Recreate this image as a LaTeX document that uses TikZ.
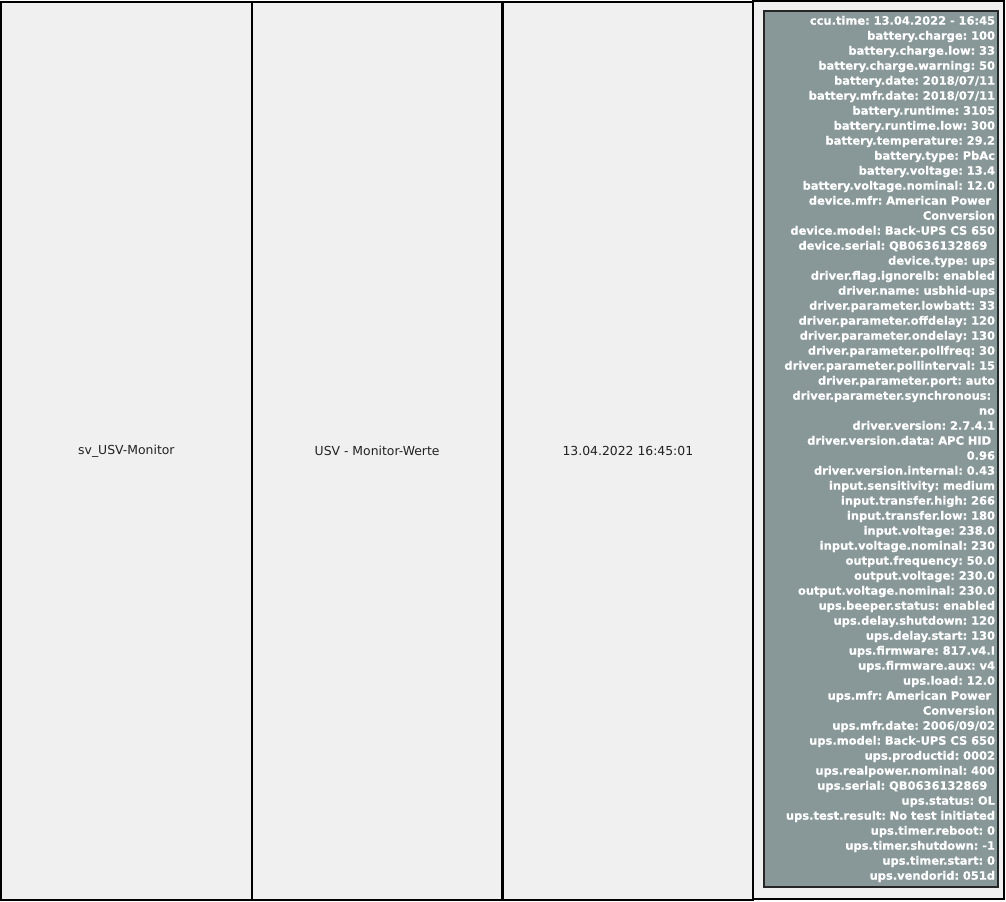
\documentclass[tikz,border=0pt]{standalone}
\usepackage{fontspec}
\setmainfont{DejaVu Sans}
\newfontfamily\valuefont{DejaVu Sans Bold}[FakeBold=0.6]
\frenchspacing
\definecolor{panelgrey}{HTML}{889898}
\definecolor{cellbg}{HTML}{F0F0F0}
\definecolor{celltext}{HTML}{222222}

\begin{document}
\begin{tikzpicture}[x=0.75pt, y=-0.75pt,
    cell/.style={rectangle, draw=black, line width=1.5pt, fill=cellbg, minimum width=188.06pt, minimum height=673.5pt, text=celltext, font=\fontsize{9.3}{11}\selectfont},
    values/.style={rectangle, draw=black!85, line width=1.1pt, fill=panelgrey, text=white, text width=171pt, align=right, inner xsep=2.25pt, inner ysep=0pt, minimum height=657pt, font=\valuefont\fontsize{8.6}{11.25}\selectfont}
]
\useasboundingbox (0,0) rectangle (1006,901);

% Columns
\node[cell] (name) at (126.4,451) {sv\_USV-Monitor};
\node[cell] (title) at (377.1,451) {USV - Monitor-Werte};
\node[cell] (stamp) at (627.9,451) {13.04.2022 16:45:01};
\node[cell] (data) at (878.6,450) {};

% Values
\node[values] (list) at (881,449) {ccu.time: 13.04.2022 - 16:45\\
battery.charge: 100\\
battery.charge.low: 33\\
battery.charge.warning: 50\\
battery.date: 2018/07/11\\
battery.mfr.date: 2018/07/11\\
battery.runtime: 3105\\
battery.runtime.low: 300\\
battery.temperature: 29.2\\
battery.type: PbAc\\
battery.voltage: 13.4\\
battery.voltage.nominal: 12.0\\
device.mfr: American Power\ \mbox{}\\
Conversion\\
device.model: Back-UPS CS 650\\
device.serial: QB0636132869\ \ \mbox{}\\
device.type: ups\\
driver.flag.ignorelb: enabled\\
driver.name: usbhid-ups\\
driver.parameter.lowbatt: 33\\
driver.parameter.offdelay: 120\\
driver.parameter.ondelay: 130\\
driver.parameter.pollfreq: 30\\
driver.parameter.pollinterval: 15\\
driver.parameter.port: auto\\
driver.parameter.synchronous:\ \mbox{}\\
no\\
driver.version: 2.7.4.1\\
driver.version.data: APC HID\ \mbox{}\\
0.96\\
driver.version.internal: 0.43\\
input.sensitivity: medium\\
input.transfer.high: 266\\
input.transfer.low: 180\\
input.voltage: 238.0\\
input.voltage.nominal: 230\\
output.frequency: 50.0\\
output.voltage: 230.0\\
output.voltage.nominal: 230.0\\
ups.beeper.status: enabled\\
ups.delay.shutdown: 120\\
ups.delay.start: 130\\
ups.firmware: 817.v4.I\\
ups.firmware.aux: v4\\
ups.load: 12.0\\
ups.mfr: American Power\ \mbox{}\\
Conversion\\
ups.mfr.date: 2006/09/02\\
ups.model: Back-UPS CS 650\\
ups.productid: 0002\\
ups.realpower.nominal: 400\\
ups.serial: QB0636132869\ \ \mbox{}\\
ups.status: OL\\
ups.test.result: No test initiated\\
ups.timer.reboot: 0\\
ups.timer.shutdown: -1\\
ups.timer.start: 0\\
ups.vendorid: 051d};

\end{tikzpicture}
\end{document}
